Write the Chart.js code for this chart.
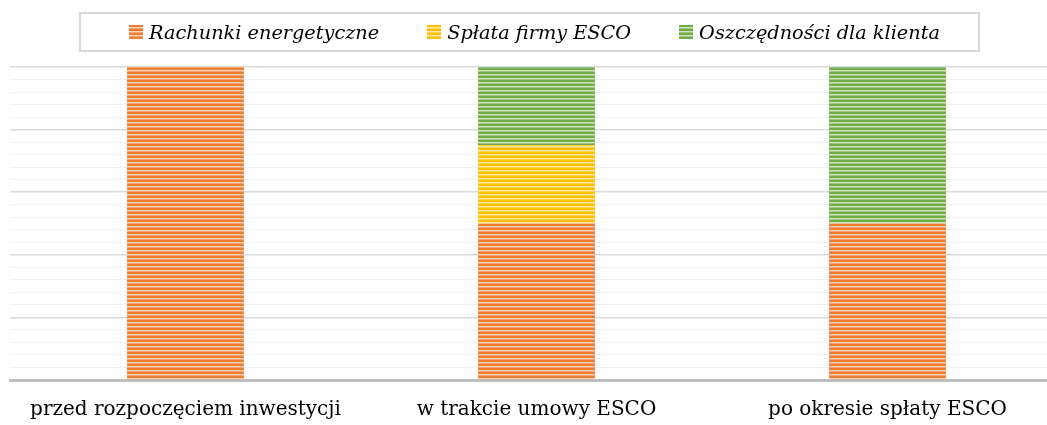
<!DOCTYPE html>
<html>
<head>
<meta charset="utf-8">
<script src="https://cdn.jsdelivr.net/npm/chart.js@4.4.1/dist/chart.umd.min.js"></script>
<style>
  html, body { margin: 0; padding: 0; background: #fff; overflow: hidden; }
  #wrap { position: relative; width: 1047px; height: 425px; overflow: hidden; }
  #chart { position: absolute; left: 0; top: 0; }
  #legend {
    position: absolute; left: 79px; top: 12px; width: 887px; height: 36px; padding-left: 10px;
    border: 2px solid #d9d9d9; display: flex; align-items: center; justify-content: center;
    font-family: "DejaVu Serif", serif; font-style: italic; font-size: 19.3px; color: #000;
  }
  .item { display: flex; align-items: center; margin: 0 24px; white-space: nowrap; }
  .swatch { width: 14px; height: 14px; margin-right: 6px; }
</style>
</head>
<body>
<div id="wrap">
  <!-- canvas is a bit larger than the window, the overflow is clipped -->
  <canvas id="chart" width="1063" height="440"></canvas>
  <div id="legend"></div>
</div>
<script>
let categories = ['przed rozpoczęciem inwestycji', 'w trakcie umowy ESCO', 'po okresie spłaty ESCO'];
let seriesNames = ['Rachunki energetyczne', 'Spłata firmy ESCO', 'Oszczędności dla klienta'];
let bills = [100, 50, 50];
let escoPayment = [0, 25, 0];
let savings = [0, 25, 50];

let colors = ['#ED7D31', '#FFC000', '#70AD47'];
let lightColors = ['#FAD3B8', '#FFE8A3', '#CFE6C0'];
let midColors = ['#F2A36C', '#FFD24D', '#9BC67D'];


// striped fill like the office pattern ---------------------------------------
function stripes(i) {
    let c = document.createElement('canvas');
    c.width = 4;
    c.height = 4;
    let x = c.getContext('2d');
    x.fillStyle = lightColors[i];
    x.fillRect(0, 0, 4, 4);
    x.fillStyle = colors[i];
    x.fillRect(0, 0, 4, 2);
    x.fillStyle = midColors[i];
    x.fillRect(0, 3, 4, 1);
    return x.createPattern(c, 'repeat');
}


function cssStripes(i) {
    return `repeating-linear-gradient(to bottom, ${colors[i]} 0 2px, ${lightColors[i]} 2px 3px, ${midColors[i]} 3px 4px)`;
}


let values = [bills, escoPayment, savings];
let datasets = seriesNames.map((name, i) => ({
    label: name,
    data: values[i],
    backgroundColor: stripes(i),
    borderWidth: 0,
    categoryPercentage: 1,
    barPercentage: 0.333
}));


const chart = new Chart(document.getElementById('chart'), {
    type: 'bar',
    data: { labels: categories, datasets: datasets },
    options: {
        responsive: false,
        animation: false,
        layout: { padding: { top: 67, left: 10, right: 0, bottom: 0 } },
        plugins: { legend: { display: false }, tooltip: { enabled: false } },
        scales: {
            x: {
                stacked: true,
                grid: { display: false, drawTicks: false },
                border: { display: true, color: '#bfbfbf', width: 3 },
                ticks: { color: '#000', padding: 18, font: { family: 'DejaVu Serif', size: 20 } }
            },
            y: {
                stacked: true,
                min: 0,
                max: 100,
                ticks: { display: false, stepSize: 4 },
                border: { display: false },
                grid: {
                    drawTicks: false,
                    color: (c) => c.tick.value % 20 === 0 ? '#d9d9d9' : '#f0f0f0',
                    lineWidth: (c) => c.tick.value % 20 === 0 ? 1.5 : 1
                }
            }
        }
    }
});


// html legend ----------------------------------------------------------------
let legend = document.getElementById('legend');
legend.innerHTML = seriesNames.map((name, i) => /*html*/ `
    <div class="item"><div class="swatch" style="background:${cssStripes(i)}"></div><span>${name}</span></div>
`).join('');
</script>
</body>
</html>
